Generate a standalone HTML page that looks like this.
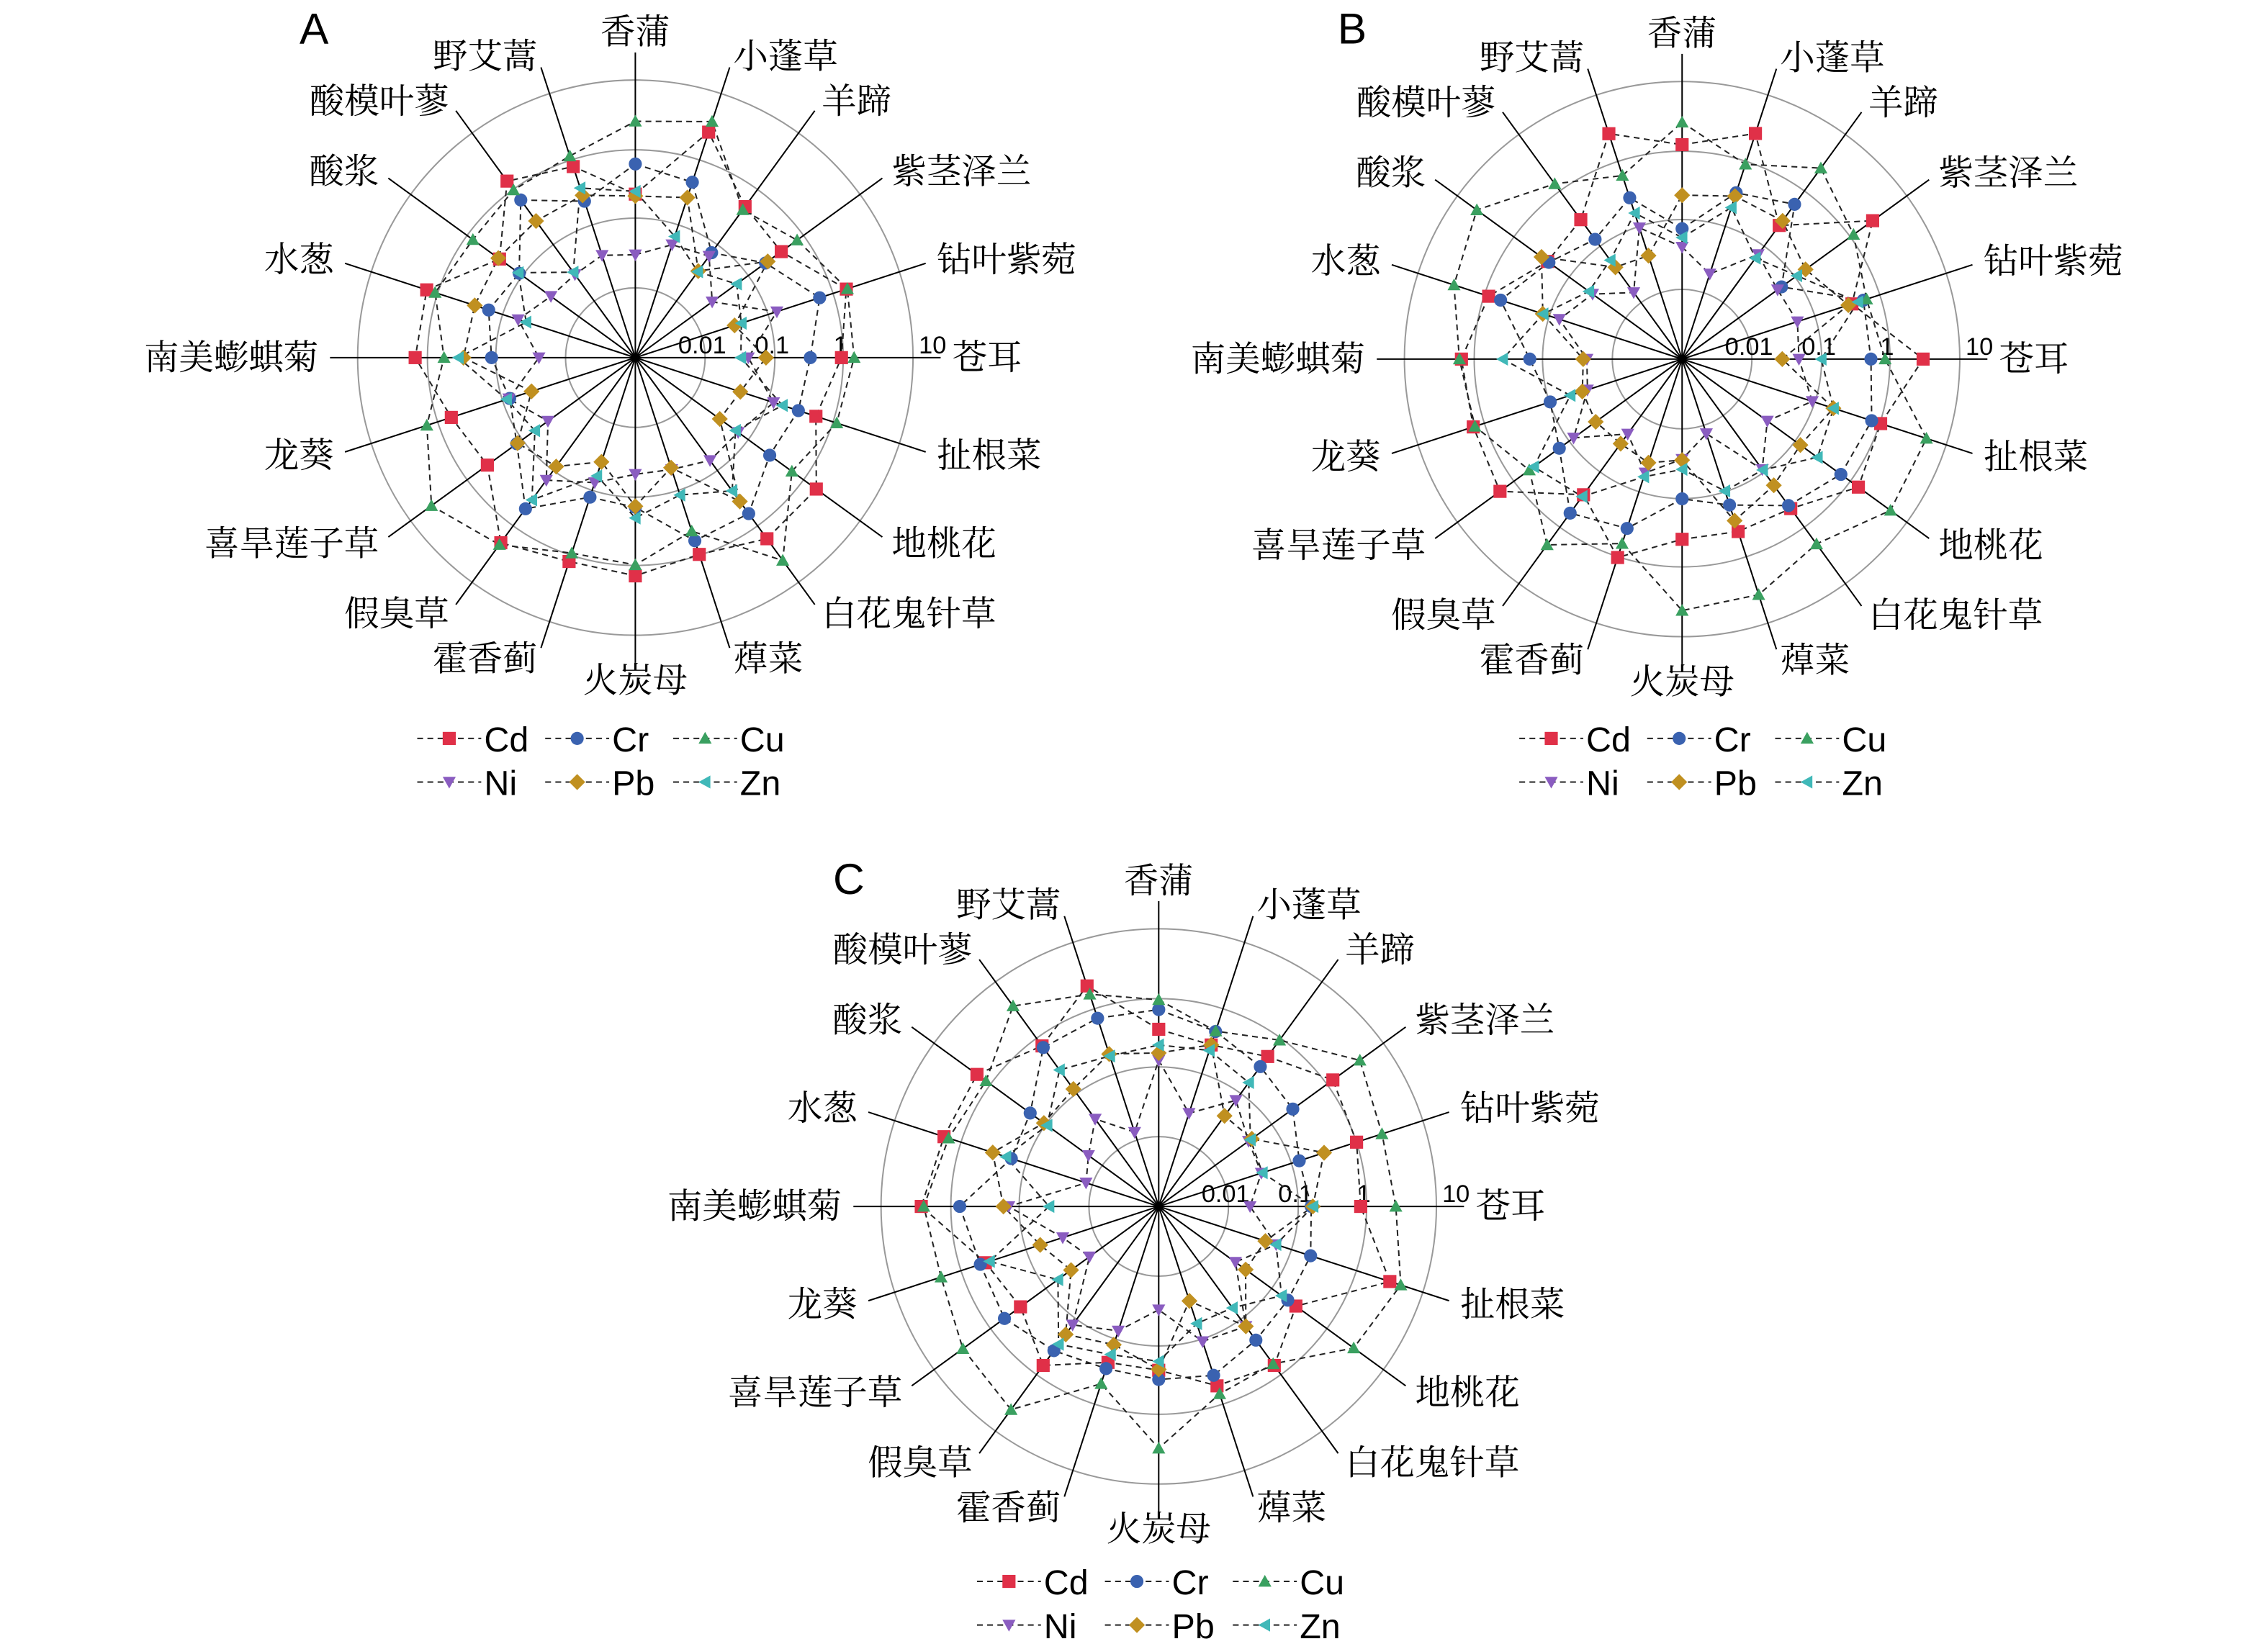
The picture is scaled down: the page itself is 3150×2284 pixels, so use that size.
<!DOCTYPE html>
<html><head><meta charset="utf-8">
<style>html,body{margin:0;padding:0;background:#fff}svg{display:block}</style>
</head><body>
<svg id="s" xmlns="http://www.w3.org/2000/svg" width="3150" height="2284" viewBox="0 0 1560 1131"></svg>
<script>
var S=document.getElementById('s');var h='';
var names=['香蒲','小蓬草','羊蹄','紫茎泽兰','钻叶紫菀','苍耳','扯根菜','地桃花','白花鬼针草','蔊菜','火炭母','霍香蓟','假臭草','喜旱莲子草','龙葵','南美蟛蜞菊','水葱','酸浆','酸模叶蓼','野艾蒿'];
var cols=['#e03048','#3a62b0','#3aa060','#8a5cc0','#c09020','#40b8b8'];
var mk=['sq','ci','tu','td','di','tl'];
var seed=7;function rnd(){seed=(seed*16807)%2147483647;return seed/2147483647;}
function marker(t,x,y,c){var s=4.5;
 if(t=='sq')return '<rect x="'+(x-s)+'" y="'+(y-s)+'" width="'+2*s+'" height="'+2*s+'" fill="'+c+'"/>';
 if(t=='ci')return '<circle cx="'+x+'" cy="'+y+'" r="'+s+'" fill="'+c+'"/>';
 var p;
 if(t=='tu')p=[[x,y-s],[x+s,y+s*0.8],[x-s,y+s*0.8]];
 if(t=='td')p=[[x,y+s],[x+s,y-s*0.8],[x-s,y-s*0.8]];
 if(t=='di')p=[[x,y-s-1],[x+s+1,y],[x,y+s+1],[x-s-1,y]];
 if(t=='tl')p=[[x-s,y],[x+s*0.8,y-s],[x+s*0.8,y+s]];
 return '<polygon points="'+p.map(function(a){return a.join(',')}).join(' ')+'" fill="'+c+'"/>';}
function chart(cx,cy,letter,lx,ly,legx,legy){
 var R=[48,96,143,191];
 R.forEach(function(r){h+='<circle cx="'+cx+'" cy="'+cy+'" r="'+r+'" fill="none" stroke="#999" stroke-width="1"/>';});
 for(var i=0;i<20;i++){var a=i*18*Math.PI/180;var sx=Math.sin(a),sy=-Math.cos(a);
  h+='<line x1="'+cx+'" y1="'+cy+'" x2="'+(cx+sx*210)+'" y2="'+(cy+sy*210)+'" stroke="#000" stroke-width="1"/>';
  var lr=218,tx=cx+sx*lr,ty=cy+sy*lr+8;var anc=sx>0.2?'start':(sx<-0.2?'end':'middle');
  if(Math.abs(sx)<=0.2)ty=cy+sy*lr+(sy<0?2:12);
  h+='<text x="'+tx+'" y="'+ty+'" font-size="24" text-anchor="'+anc+'" font-family="Noto Serif CJK SC,serif">'+names[i]+'</text>';}
 var labs=['0.01','0.1','1','10'];
 for(var k=0;k<4;k++)h+='<text x="'+(cx+R[k]-(k==3?-4:2))+'" y="'+(cy-3)+'" font-size="17" text-anchor="'+(k==3?'start':'middle')+'" font-family="Liberation Sans,sans-serif">'+labs[k]+'</text>';
 var mkh='';
 for(var m=0;m<6;m++){var pts=[];
  for(var i=0;i<20;i++){var base=[140,110,150,80,95,100][m];var r=base+(rnd()-0.5)*55;r=Math.max(45,Math.min(185,r));
   var a=i*18*Math.PI/180;pts.push([cx+Math.sin(a)*r,cy-Math.cos(a)*r]);}
  h+='<polygon points="'+pts.map(function(p){return p[0].toFixed(1)+','+p[1].toFixed(1)}).join(' ')+'" fill="none" stroke="#222" stroke-width="1" stroke-dasharray="4,3"/>';
  pts.forEach(function(p){mkh+=marker(mk[m],p[0],p[1],cols[m]);});}
 h+=mkh;
 h+='<text x="'+lx+'" y="'+ly+'" font-size="30" font-family="Liberation Sans,sans-serif">'+letter+'</text>';
 var ln=['Cd','Cr','Cu','Ni','Pb','Zn'];
 for(var m=0;m<6;m++){var x=legx+(m%3)*88,y=legy+Math.floor(m/3)*30;
  h+='<line x1="'+x+'" y1="'+y+'" x2="'+(x+44)+'" y2="'+y+'" stroke="#222" stroke-dasharray="4,3"/>';
  h+=marker(mk[m],x+22,y,cols[m]);
  h+='<text x="'+(x+46)+'" y="'+(y+9)+'" font-size="24" font-family="Liberation Sans,sans-serif">'+ln[m]+'</text>';}
}
chart(437,246,'A',206,30,287,508);
chart(1157,247,'B',920,30,1045,508);
chart(797,830,'C',573,615,672,1088);
S.innerHTML=h;
</script>
</body></html>
